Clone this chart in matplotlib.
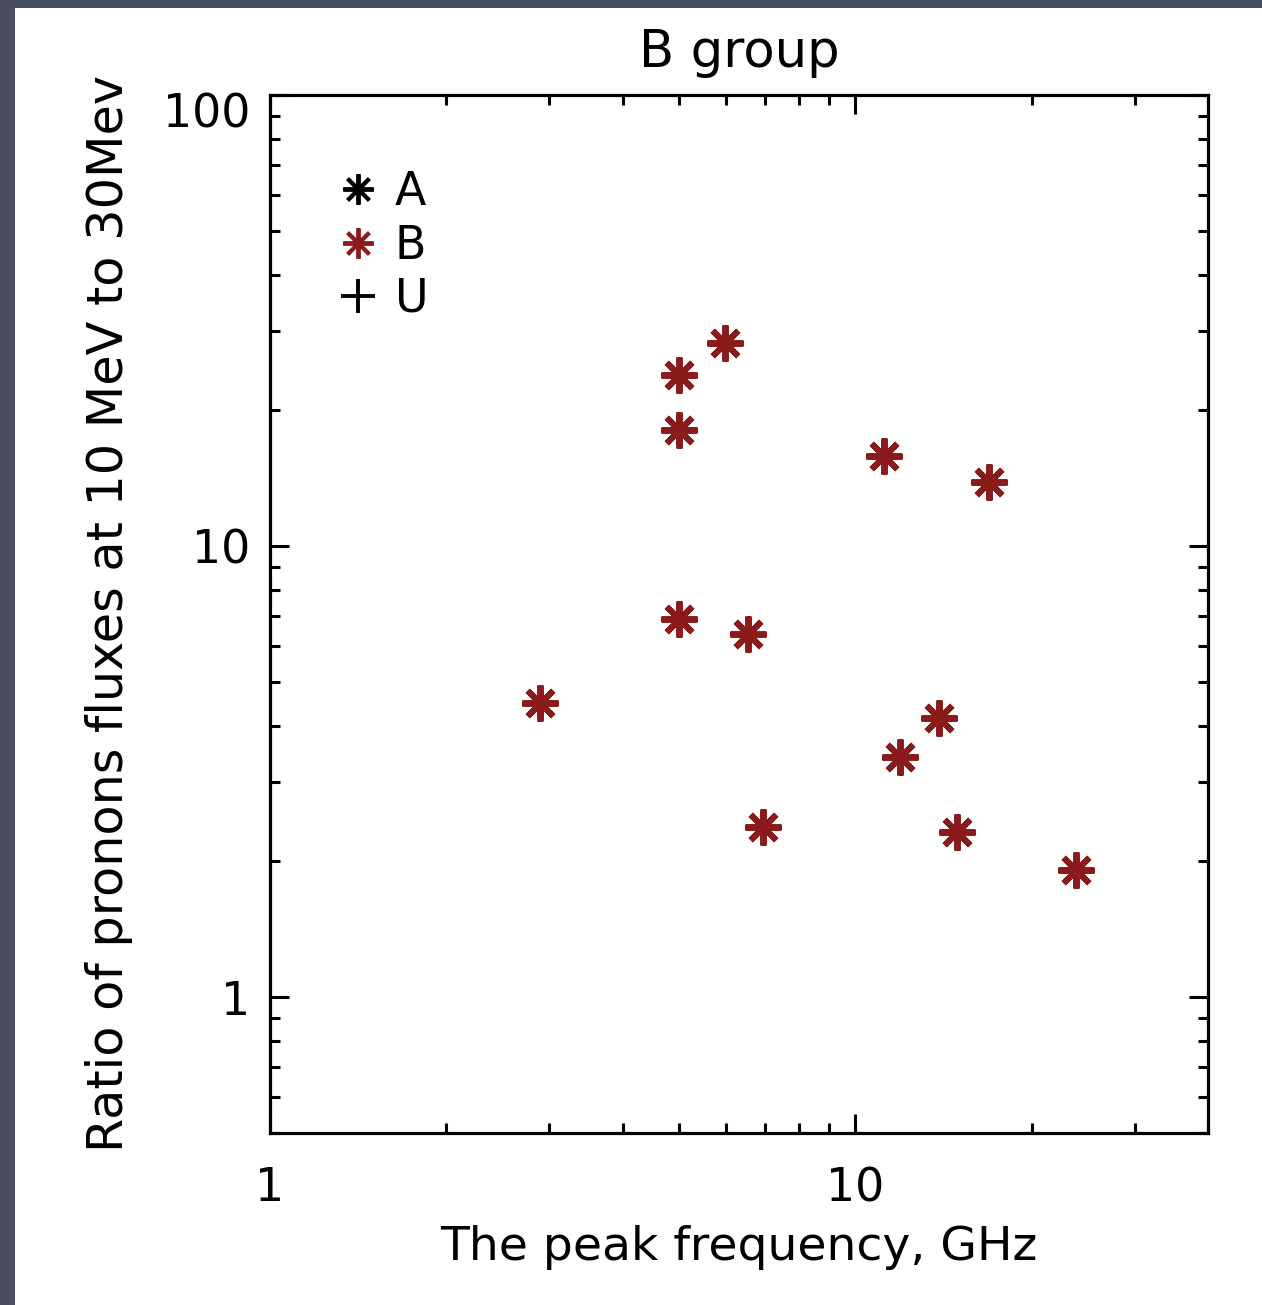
import matplotlib
matplotlib.use("Agg")
import matplotlib.pyplot as plt
from matplotlib.lines import Line2D
from matplotlib.patches import Rectangle
from matplotlib.transforms import ScaledTranslation
from matplotlib.ticker import LogLocator, NullFormatter, FixedLocator, FixedFormatter

# Data (B group)
freq_b = [2.89, 4.99, 4.99, 5.98, 4.99, 6.54, 6.94, 11.2, 16.9, 13.9, 11.9, 14.9, 23.8]
ratio_b = [4.5, 23.9, 18.1, 28.2, 6.9, 6.4, 2.39, 15.8, 13.9, 4.16, 3.40, 2.32, 1.91]

legend_labels = ["A", "B", "U"]
x_ticks = [1, 10]
x_ticklabels = ["1", "10"]
y_ticks = [1, 10, 100]
y_ticklabels = ["1", "10", "100"]

red = "#8b1a1a"
W, H = 1262, 1305
fig = plt.figure(figsize=(W / 100, H / 100), dpi=100)
fig.patch.set_facecolor("#4a4e5e")
fig.patches.append(Rectangle((15 / W, 0), 1 - 15 / W, 1 - 8 / H, transform=fig.transFigure,
                             facecolor="white", edgecolor="none", zorder=-10))

ax = fig.add_axes([270 / W, 1 - 1133 / H, (1208 - 270) / W, (1133 - 95) / H])
ax.set_zorder(5)
ax.set_xscale("log")
ax.set_yscale("log")
ax.set_xlim(1, 40)
ax.set_ylim(0.5, 100)

star = (8, 2, 0)
ax.plot(freq_b, ratio_b, linestyle="none", marker=star, markersize=26,
        markeredgecolor=red, markerfacecolor=red, markeredgewidth=4.3)

for s in ax.spines.values():
    s.set_linewidth(2.3)
    s.set_color("black")

ax.xaxis.set_major_locator(FixedLocator(x_ticks))
ax.xaxis.set_major_formatter(FixedFormatter(x_ticklabels))
ax.yaxis.set_major_locator(FixedLocator(y_ticks))
ax.yaxis.set_major_formatter(FixedFormatter(y_ticklabels))
ax.xaxis.set_minor_locator(LogLocator(base=10, subs=range(2, 10)))
ax.yaxis.set_minor_locator(LogLocator(base=10, subs=range(2, 10)))
ax.xaxis.set_minor_formatter(NullFormatter())
ax.yaxis.set_minor_formatter(NullFormatter())
ax.tick_params(which="both", direction="in", top=True, right=True, width=2.2, color="black")
ax.tick_params(which="major", length=13.5, labelsize=33)
ax.tick_params(which="minor", length=7.5)
ax.tick_params(axis="x", which="major", pad=24)
ax.tick_params(axis="y", which="major", pad=14)

ax.set_xlabel("The peak frequency, GHz", fontsize=34, labelpad=10)
ax.set_ylabel("Ratio of pronons fluxes at 10 MeV to 30Mev", fontsize=35.5, labelpad=22)
ax.set_title("B group", fontsize=37, pad=20)

handles = [
    Line2D([], [], linestyle="none", marker=star, markersize=22, color="black", markeredgewidth=2.8),
    Line2D([], [], linestyle="none", marker=star, markersize=22, color=red, markeredgewidth=2.8),
    Line2D([], [], linestyle="none", marker="+", markersize=24, color="black", markeredgewidth=2.8),
]
leg = ax.legend(handles, legend_labels, loc="upper left", bbox_to_anchor=(0.05, 0.945),
                frameon=False, fontsize=33, handlelength=1.0, handletextpad=0.3,
                labelspacing=0.18, borderaxespad=0)

fig.canvas.draw()
top_label = ax.yaxis.get_major_ticks()[2].label1
top_label.set_transform(top_label.get_transform() + ScaledTranslation(0, -0.15, fig.dpi_scale_trans))

fig.savefig("out.png", dpi=100, facecolor=fig.get_facecolor())
